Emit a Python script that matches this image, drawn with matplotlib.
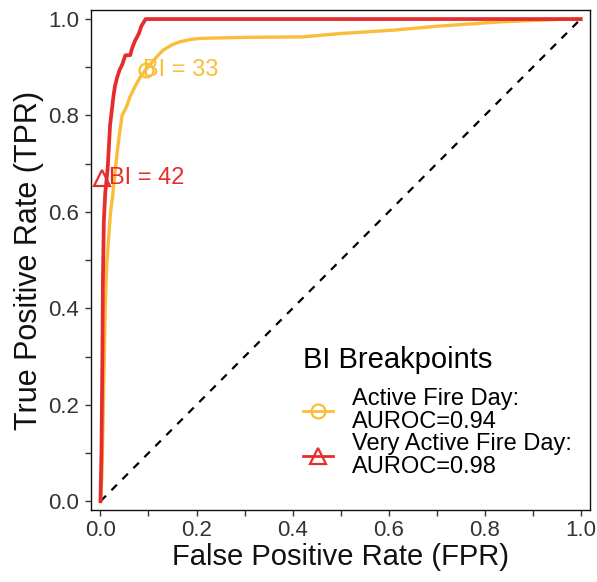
#!/usr/bin/env python3
"""ROC curves for BI breakpoints (active / very active fire days)."""

import matplotlib

matplotlib.use("Agg")

import matplotlib.pyplot as plt
import numpy as np
from matplotlib.lines import Line2D

COLORS = {
    "active": "#f9bd3a",
    "very_active": "#e52d2d",
    "ink": "#111111",
    "tick": "#333333",
}

# Active Fire Day ROC
active_fpr = [0.0, 0.003, 0.005, 0.008, 0.010, 0.013, 0.018, 0.021, 0.025, 0.031,
              0.038, 0.045, 0.055, 0.062, 0.072, 0.083, 0.094, 0.107, 0.120, 0.131,
              0.150, 0.166, 0.190, 0.210, 0.300, 0.420, 0.500, 0.610, 0.700, 0.830,
              0.970, 1.0]
active_tpr = [0.0, 0.05, 0.15, 0.30, 0.40, 0.49, 0.56, 0.60, 0.63, 0.69,
              0.75, 0.80, 0.82, 0.84, 0.86, 0.88, 0.895, 0.91, 0.925, 0.936,
              0.947, 0.953, 0.958, 0.960, 0.962, 0.963, 0.970, 0.977, 0.985, 0.994,
              1.0, 1.0]

# Very Active Fire Day ROC
very_fpr = [0.0, 0.002, 0.004, 0.005, 0.007, 0.010, 0.015, 0.020, 0.027, 0.030,
            0.035, 0.040, 0.045, 0.052, 0.062, 0.066, 0.072, 0.080, 0.085, 0.094, 1.0]
very_tpr = [0.0, 0.10, 0.30, 0.45, 0.58, 0.64, 0.69, 0.78, 0.84, 0.86,
            0.88, 0.895, 0.905, 0.925, 0.925, 0.94, 0.955, 0.97, 0.985, 1.0, 1.0]

# breakpoint markers
active_bp = (0.094, 0.895)
very_bp = (0.003, 0.67)
active_bp_label = "BI = 33"
very_bp_label = "BI = 42"

legend_labels = ["Active Fire Day:\nAUROC=0.94", "Very Active Fire Day:\nAUROC=0.98"]


def main() -> None:
    plt.rcParams.update({
        "font.family": ["Liberation Sans", "DejaVu Sans"],
        "axes.edgecolor": COLORS["ink"],
        "xtick.color": COLORS["tick"],
        "ytick.color": COLORS["tick"],
    })

    fig = plt.figure(figsize=(5.97, 5.82), dpi=100)
    ax = fig.add_axes([0.153, 0.123, 0.835, 0.860])

    ax.plot([0, 1], [0, 1], color="black", lw=1.6, ls=(0, (3.5, 3.5)), zorder=1)
    ax.plot(active_fpr, active_tpr, color=COLORS["active"], lw=2.4, zorder=3)
    ax.plot(very_fpr, very_tpr, color=COLORS["very_active"], lw=2.7, zorder=4)

    ax.plot(*active_bp, marker="o", ms=10, mfc="none", mec=COLORS["active"], mew=1.6, zorder=5)
    ax.plot(*very_bp, marker="^", ms=12, mfc="none", mec=COLORS["very_active"], mew=1.6, zorder=5)
    ax.annotate(active_bp_label, active_bp, xytext=(-3, 0), textcoords="offset pixels",
                ha="left", va="center", fontsize=17, color=COLORS["active"], zorder=6)
    ax.annotate(very_bp_label, very_bp, xytext=(7, 0), textcoords="offset pixels",
                ha="left", va="center", fontsize=17, color=COLORS["very_active"], zorder=6)

    ax.set_xlim(-0.019, 1.019)
    ax.set_ylim(-0.019, 1.019)
    ticks = np.round(np.arange(0, 1.01, 0.1), 1)
    labels = [f"{t:.1f}" if i % 2 == 0 else "" for i, t in enumerate(ticks)]
    ax.set_xticks(ticks)
    ax.set_xticklabels(labels)
    ax.set_yticks(ticks)
    ax.set_yticklabels(labels)
    ax.tick_params(length=4, width=1.0, labelsize=16, pad=3)
    ax.tick_params(axis="y", pad=5)
    for spine in ax.spines.values():
        spine.set_linewidth(1.0)

    ax.set_xlabel("False Positive Rate (FPR)", fontsize=21, color=COLORS["ink"], labelpad=1)
    ax.set_ylabel("True Positive Rate (TPR)", fontsize=22, color=COLORS["ink"], labelpad=3)

    handles = [
        Line2D([], [], color=COLORS["active"], lw=2.0, marker="o", ms=10, mfc="none", mew=1.6),
        Line2D([], [], color=COLORS["very_active"], lw=2.0, marker="^", ms=12, mfc="none", mew=1.6),
    ]
    leg = ax.legend(handles, legend_labels, title="BI Breakpoints", loc="upper left",
                    bbox_to_anchor=(0.381, 0.37), frameon=False, fontsize=17,
                    title_fontsize=21, alignment="left", labelspacing=0.0,
                    handlelength=1.3, handletextpad=0.8)
    for t in leg.get_texts():
        t.set_linespacing(1.05)
    # extra room between the title and the entries
    leg._legend_box.sep = 10

    fig.savefig("out.png", dpi=100)
    plt.close(fig)


if __name__ == "__main__":
    main()
